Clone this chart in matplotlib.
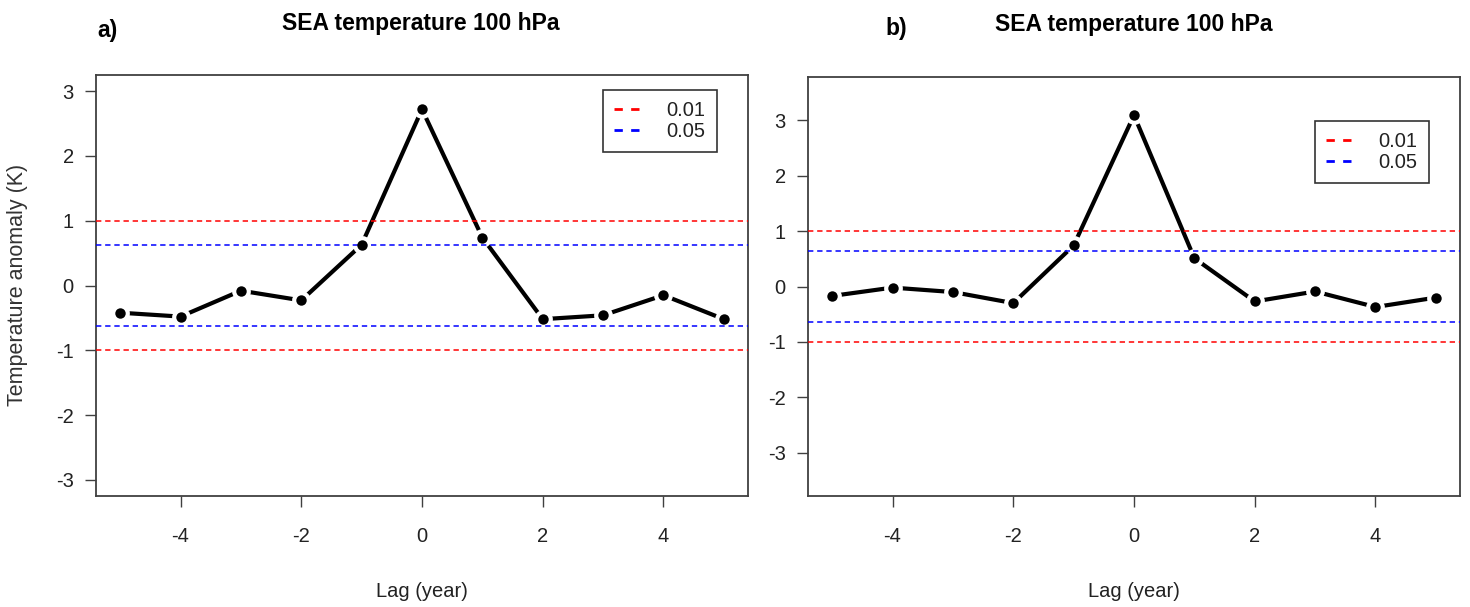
import matplotlib
matplotlib.use("Agg")
import matplotlib.pyplot as plt
from matplotlib.lines import Line2D

plt.rcParams['font.family'] = ['Liberation Sans', 'DejaVu Sans']

# superposed epoch analysis, 100 hPa temperature
lags = [-5, -4, -3, -2, -1, 0, 1, 2, 3, 4, 5]
anom_a = [-0.42, -0.48, -0.08, -0.23, 0.63, 2.72, 0.74, -0.52, -0.46, -0.15, -0.52]
anom_b = [-0.17, -0.02, -0.10, -0.30, 0.74, 3.09, 0.51, -0.27, -0.09, -0.37, -0.20]

# significance levels (K)
sig01_a, sig05_a = 1.0, 0.63
sig01_b, sig05_b = 1.0, 0.64

ylim_a = (-3.25, 3.25)
ylim_b = (-3.78, 3.78)

xticks = [-4, -2, 0, 2, 4]
yticks = [-3, -2, -1, 0, 1, 2, 3]

title = "SEA temperature 100 hPa"
frame_col = "#404040"

fig = plt.figure(figsize=(14.7, 6.07), dpi=100)
ax_a = fig.add_axes([96 / 1470, 111 / 607, 652 / 1470, 421 / 607])
ax_b = fig.add_axes([808 / 1470, 111 / 607, 652 / 1470, 419 / 607])


def draw_panel(ax, vals, s01, s05, ylim, leg_anchor):
    # R type="b": line broken around each point
    ax.plot(lags, vals, color="black", lw=3.0, zorder=2, solid_capstyle="butt")
    ax.plot(lags, vals, "o", color="white", ms=13.5, mec="none", zorder=3)
    for lvl, col in ((s01, "red"), (s05, "blue")):
        for sgn in (1, -1):
            ax.axhline(sgn * lvl, color=col, lw=1.1, dashes=(3.5, 2.5), zorder=4)
    ax.plot(lags, vals, "o", color="black", ms=7.5, mec="none", zorder=5)

    ax.set_xlim(-5.4, 5.4)
    ax.set_ylim(*ylim)
    ax.set_xticks(xticks)
    ax.set_xticklabels([str(t) for t in xticks])
    ax.set_yticks(yticks)
    ax.set_yticklabels([str(t) for t in yticks])
    ax.tick_params(axis="both", direction="out", length=8, width=1.0,
                   color=frame_col, labelsize=14.5, labelcolor="#222222")
    ax.tick_params(axis="x", pad=14)
    ax.tick_params(axis="y", pad=8)
    for sp in ax.spines.values():
        sp.set_color(frame_col)
        sp.set_linewidth(1.3)

    handles = [Line2D([], [], color="red", lw=2, dashes=(3, 3)),
               Line2D([], [], color="blue", lw=2, dashes=(3, 3))]
    leg = ax.legend(handles, ["0.01", "0.05"], loc="upper left",
                    bbox_to_anchor=leg_anchor, fontsize=14.5, frameon=True,
                    fancybox=False, edgecolor="black", borderpad=0.55,
                    labelspacing=0.1, handlelength=1.5, handletextpad=1.1,
                    borderaxespad=0)
    leg.get_frame().set_linewidth(1.2)
    for t in leg.get_texts():
        t.set_color("#222222")

    ax.set_xlabel("Lag (year)", fontsize=14.5, color="#222222", labelpad=26)


draw_panel(ax_a, anom_a, sig01_a, sig05_a, ylim_a, ((603 - 96) / 652, (496 - 90) / 421))
draw_panel(ax_b, anom_b, sig01_b, sig05_b, ylim_b, ((1315 - 808) / 652, (496 - 121) / 419))

fig.text(18 / 1470, 1 - 285 / 607, "Temperature anomaly (K)", rotation=90,
         ha="center", va="center", fontsize=15.5, color="#333333")

fig.text(421 / 1470, 1 - 30 / 607, title, ha="center", va="baseline",
         fontsize=16.5, fontweight="bold")
fig.text(1134 / 1470, 1 - 31 / 607, title, ha="center", va="baseline",
         fontsize=16.5, fontweight="bold")
fig.text(97 / 1470, 1 - 37 / 607, "a)", ha="left", va="baseline",
         fontsize=16.5, fontweight="bold")
fig.text(885 / 1470, 1 - 35 / 607, "b)", ha="left", va="baseline",
         fontsize=16.5, fontweight="bold")

fig.savefig("out.png", dpi=100)
